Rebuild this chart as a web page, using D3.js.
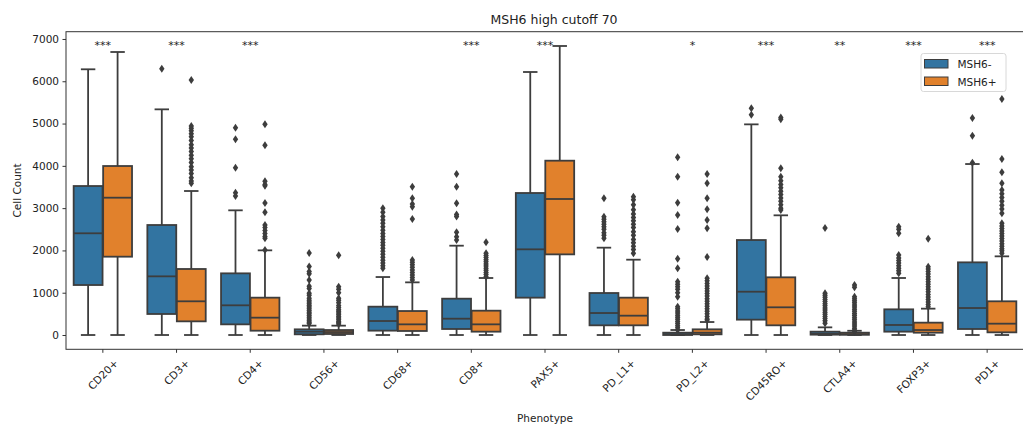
<!DOCTYPE html>
<html>
<head>
<meta charset="utf-8">
<script src="https://cdn.jsdelivr.net/npm/d3@7"></script>
<style>
  html, body { margin: 0; padding: 0; background: #fff; }
  svg { display: block; font-family: "DejaVu Sans", sans-serif; }
</style>
</head>
<body>
<svg id="chart" width="1023" height="428"></svg>
<script>
// ---------- data ----------
const title = "MSH6 high cutoff 70";
const xLabel = "Phenotype";
const yLabel = "Cell Count";
const categories = ["CD20+","CD3+","CD4+","CD56+","CD68+","CD8+","PAX5+","PD_L1+","PD_L2+","CD45RO+","CTLA4+","FOXP3+","PD1+"];
const hues = ["MSH6-","MSH6+"];
const hueColors = ["#3274a1","#e1812c"];
const stars = ["***","***","***","","","***","***","","*","***","**","***","***"];
const yTicks = [0,1000,2000,3000,4000,5000,6000,7000];
const yLim = [-338, 7172];

// [whisker low, q1, median, q3, whisker high]
const negStats = [
  [0,1182,2405,3523,6283],
  [0,497,1387,2601,5336],
  [0,252,702,1458,2948],
  [0,16,79,134,221],
  [0,103,331,670,1371],
  [0,142,386,859,2112],
  [0,883,2026,3358,6219],
  [0,229,520,993,2065],
  [0,0,20,55,118],
  [0,363,1024,2246,4981],
  [0,8,30,79,181],
  [0,79,237,607,1348],
  [0,142,638,1718,4043]
];
const posStats = [
  [0,1852,3247,3996,6692],
  [0,323,797,1561,3405],
  [0,102,410,883,2002],
  [0,24,70,118,221],
  [0,95,252,567,1245],
  [0,79,252,575,1348],
  [0,1907,3216,4122,6834],
  [0,229,457,883,1781],
  [0,16,55,134,307],
  [0,229,655,1364,2830],
  [0,5,20,55,100],
  [0,55,118,292,623],
  [0,63,268,797,1860]
];
const negOutliers = [
  [],
  [6298],
  [4902,4627,3957,3366,3287],
  [1940,1620,1500,1450,1300,1150,1100,990,940,870,820,780,740,700,660,620,580,540,500,460,420,380,340,300,270],
  [2995,2900,2800,2720,2640,2560,2480,2400,2330,2260,2190,2120,2050,1980,1910,1840,1770,1700,1640,1576],
  [3807,3508,3113,2850,2800,2430,2325,2246],
  [],
  [3232,2798,2740,2680,2620,2560,2500,2420,2360,2286],
  [4202,3744,3129,2838,2507,1805,1576,1261,1200,1140,1080,1000,907,670,620,570,520,470,420,370,320,270,220,170,118],
  [5360,5210],
  [2530,986,940,890,840,790,740,690,640,590,540,490,440,390,340,276],
  [2562,2500,2405,1892,1820,1760,1700,1640,1580,1520,1458],
  [5131,4714,4075]
];
const posOutliers = [
  [],
  [6030,4940,4890,4830,4760,4690,4600,4500,4420,4340,4250,4170,4080,3980,3900,3820,3720,3640,3590],
  [4981,4485,3634,3560,3531,3121,2901,2600,2540,2470,2400,2330,2286,2010],
  [1884,1143,1080,1000,870,820,760,700,650,600,560,520,480,440,400,360,320,290,260],
  [3508,3232,3100,3035,2743,1773,1720,1660,1600,1540,1480,1420,1360,1300],
  [2192,1931,1880,1830,1780,1730,1680,1630,1580,1530,1480,1430,1379],
  [],
  [3271,3200,3080,2960,2860,2780,2700,2620,2540,2440,2360,2260,2180,2100,2020,1931],
  [3807,3587,3232,2972,2719,2522,1844,1340,1280,1220,1160,1100,1040,980,920,860,800,740,680,620,560,500,440,380,355],
  [5146,5100,3941,3744,3650,3560,3480,3400,3320,3240,3160,3080,3000,2956],
  [1182,1130,907,860,810,760,710,660,610,560,510,460,410,360,310,260,210,160,120,79],
  [2278,1616,1560,1500,1440,1380,1320,1260,1200,1140,1080,1020,960,900,840,780,720,670],
  [5580,4162,3847,3587,3429,3340,3250,3160,3070,2980,2878,2641,2580,2520,2460,2400,2340,2280,2220,2160,2100,2040,1990,1931]
];

// ---------- layout ----------
const svg = d3.select("#chart");
const plot = {left: 66, right: 1024, top: 31.7, bottom: 349.3};
const edge = "#3d3d3d";
const axisColor = "#333";

const x = d3.scaleBand().domain(categories).range([plot.left, plot.right]).padding(0);
const xHue = d3.scaleBand().domain(hues).range([0.1 * x.bandwidth(), 0.9 * x.bandwidth()]).padding(0);
const y = d3.scaleLinear().domain(yLim).range([plot.bottom, plot.top]);

const boxW = xHue.bandwidth() * 0.98;
const capW = boxW * 0.5;

// boxes
const statsByHue = [negStats, posStats];
const outByHue = [negOutliers, posOutliers];
const g = svg.append("g");

hues.forEach((h, hi) => {
  categories.forEach((c, ci) => {
    const s = statsByHue[hi][ci];
    const cx = x(c) + xHue(h) + xHue.bandwidth() / 2;
    const gg = g.append("g");
    // whiskers
    gg.append("line").attr("x1", cx).attr("x2", cx).attr("y1", y(s[0])).attr("y2", y(s[1]))
      .attr("stroke", edge).attr("stroke-width", 1.8);
    gg.append("line").attr("x1", cx).attr("x2", cx).attr("y1", y(s[3])).attr("y2", y(s[4]))
      .attr("stroke", edge).attr("stroke-width", 1.8);
    // caps
    [s[0], s[4]].forEach(v => {
      gg.append("line").attr("x1", cx - capW / 2).attr("x2", cx + capW / 2)
        .attr("y1", y(v)).attr("y2", y(v)).attr("stroke", edge).attr("stroke-width", 1.8);
    });
    // box
    gg.append("rect").attr("x", cx - boxW / 2).attr("width", boxW)
      .attr("y", y(s[3])).attr("height", Math.max(0.5, y(s[1]) - y(s[3])))
      .attr("fill", hueColors[hi]).attr("stroke", edge).attr("stroke-width", 1.8);
    // median
    gg.append("line").attr("x1", cx - boxW / 2).attr("x2", cx + boxW / 2)
      .attr("y1", y(s[2])).attr("y2", y(s[2])).attr("stroke", edge).attr("stroke-width", 1.8);
    // outliers (thin diamonds)
    gg.selectAll("path.out").data(outByHue[hi][ci]).join("path")
      .attr("class", "out")
      .attr("d", v => {
        const py = y(v), hw = 2.7, hh = 4;
        return `M${cx},${py - hh}L${cx + hw},${py}L${cx},${py + hh}L${cx - hw},${py}Z`;
      })
      .attr("fill", edge);
  });
});

// spines
svg.append("rect").attr("x", plot.left).attr("y", plot.top)
  .attr("width", plot.right - plot.left).attr("height", plot.bottom - plot.top)
  .attr("fill", "none").attr("stroke", axisColor).attr("stroke-width", 1);

// y axis
const yAxis = svg.append("g").attr("transform", `translate(${plot.left},0)`)
  .call(d3.axisLeft(y).tickValues(yTicks).tickSize(3.5).tickPadding(3.5).tickFormat(d3.format("d")));
yAxis.select(".domain").remove();
yAxis.selectAll(".tick line").attr("stroke", axisColor);
yAxis.selectAll("text").attr("font-size", 10.5).attr("fill", "#222").attr("font-family", "DejaVu Sans");

// x axis
const xAxis = svg.append("g").attr("transform", `translate(0,${plot.bottom})`)
  .call(d3.axisBottom(x).tickSize(3.5).tickFormat(() => ""));
xAxis.select(".domain").remove();
xAxis.selectAll(".tick line").attr("stroke", axisColor);

// rotated x tick labels, bbox centered under tick
categories.forEach(c => {
  const t = svg.append("text").attr("font-size", 10.5).attr("fill", "#222")
    .attr("text-anchor", "middle").attr("dominant-baseline", "central").text(c);
  const w = t.node().getComputedTextLength();
  const hgt = 10.5;
  const rotH = (w + hgt) * Math.SQRT1_2;
  const cy = plot.bottom + 8 + rotH / 2;
  t.attr("transform", `translate(${x(c) + x.bandwidth() / 2},${cy}) rotate(-45)`);
});

// axis labels
svg.append("text").attr("x", (plot.left + 1024) / 2).attr("y", 422)
  .attr("text-anchor", "middle").attr("font-size", 10.5).attr("fill", "#222").text(xLabel);
svg.append("text").attr("transform", `translate(21,${(plot.top + plot.bottom) / 2}) rotate(-90)`)
  .attr("text-anchor", "middle").attr("font-size", 10.5).attr("fill", "#222").text(yLabel);

// title
svg.append("text").attr("x", 554).attr("y", 24).attr("text-anchor", "middle")
  .attr("font-size", 12.5).attr("fill", "#222").text(title);

// significance stars
svg.append("g").selectAll("text").data(categories).join("text")
  .attr("x", c => x(c) + x.bandwidth() / 2)
  .attr("y", 49)
  .attr("text-anchor", "middle").attr("font-size", 11).attr("fill", "#222")
  .text((c, i) => stars[i]);

// legend
const lg = svg.append("g").attr("transform", "translate(921,53.5)");
lg.append("rect").attr("width", 85).attr("height", 38).attr("rx", 2.5)
  .attr("fill", "#fff").attr("fill-opacity", 0.8).attr("stroke", "#d8d8d8");
hues.forEach((h, i) => {
  lg.append("rect").attr("x", 3.5).attr("y", 6 + i * 17.5).attr("width", 23.5).attr("height", 8.5)
    .attr("fill", hueColors[i]).attr("stroke", edge).attr("stroke-width", 1);
  lg.append("text").attr("x", 36.5).attr("y", 10.5 + i * 17.5).attr("dominant-baseline", "central")
    .attr("font-size", 10.5).attr("fill", "#222").text(h);
});
</script>
</body>
</html>
